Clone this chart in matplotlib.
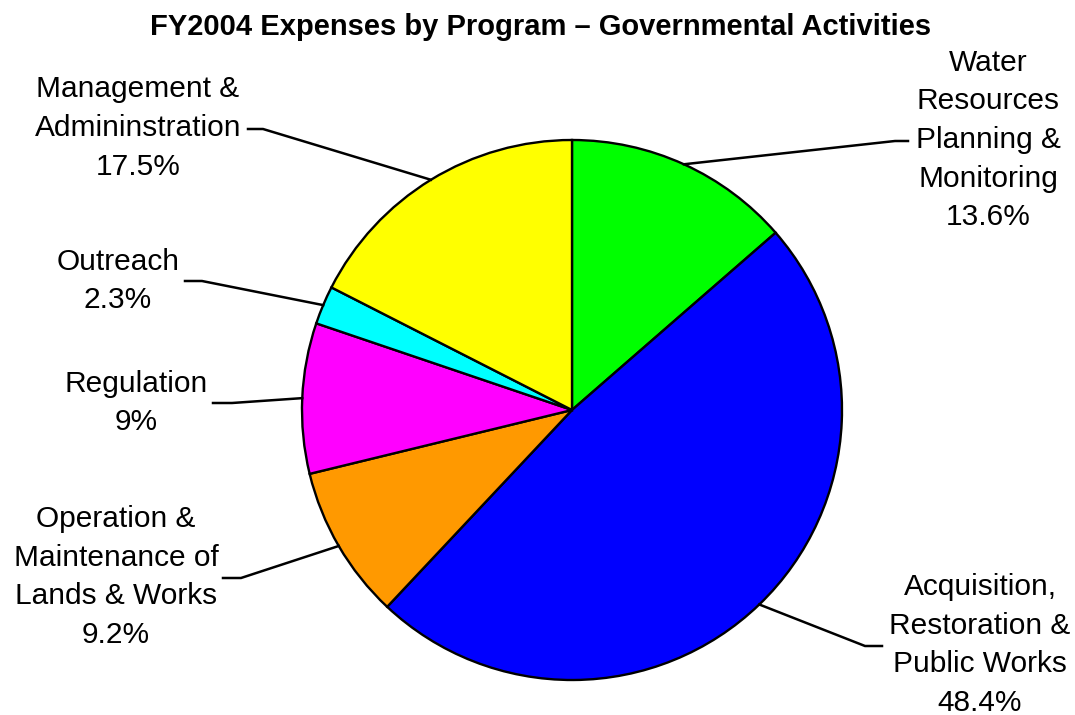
import matplotlib
matplotlib.use("Agg")
import matplotlib.pyplot as plt
import numpy as np

# ---- data ----
programs = [
    "Water\nResources\nPlanning &\nMonitoring",
    "Acquisition,\nRestoration &\nPublic Works",
    "Operation &\nMaintenance of\nLands & Works",
    "Regulation",
    "Outreach",
    "Management &\nAdmininstration",
]
percent_labels = ["13.6%", "48.4%", "9.2%", "9%", "2.3%", "17.5%"]
shares = [13.6, 48.4, 9.2, 9.0, 2.3, 17.5]
colors = ["#00FF00", "#0000FF", "#FF9900", "#FF00FF", "#00FFFF", "#FFFF00"]
title = "FY2004 Expenses by Program \u2013 Governmental Activities"

W, H = 1075, 715
plt.rcParams['font.family'] = ['Liberation Sans', 'DejaVu Sans']

fig = plt.figure(figsize=(W / 100, H / 100), dpi=100)
ax = fig.add_axes([0, 0, 1, 1])

def py(y):
    return H - y

cx, cy, R = 572, 410, 270
wedges, _ = ax.pie(shares, colors=colors, startangle=90, counterclock=False,
                   center=(cx, py(cy)), radius=R, frame=True,
                   wedgeprops=dict(edgecolor='black', linewidth=1.7))
ax.set_xlim(0, W)
ax.set_ylim(0, H)
ax.set_aspect('equal')
ax.axis('off')

# label layout (pixel coords): text center x, text center y, elbow, end
layout = [
    dict(tx=988, ty=140, elbow=(895, 141), end=(908, 141)),
    dict(tx=980, ty=645, elbow=(865, 646), end=(882, 646)),
    dict(tx=116, ty=577, elbow=(241, 578), end=(223, 578)),
    dict(tx=136, ty=403, elbow=(232, 403), end=(213, 403)),
    dict(tx=118, ty=281, elbow=(202, 281), end=(185, 281)),
    dict(tx=138, ty=128, elbow=(263, 129), end=(248, 129)),
]
line_h = 38.7
fs = 21.5

for w, name, pct, lay in zip(wedges, programs, percent_labels, layout):
    mid = np.deg2rad((w.theta1 + w.theta2) / 2)
    sx = cx + R * np.cos(mid)
    sy = py(cy) + R * np.sin(mid)
    ex, ey = lay['elbow']
    fx, fy = lay['end']
    ax.plot([sx, ex, fx], [sy, py(ey), py(fy)], color='black', lw=1.8,
            solid_joinstyle='miter', zorder=5)
    lines = name.split("\n") + [pct]
    n = len(lines)
    y0 = lay['ty'] - (n - 1) / 2 * line_h
    for i, ln in enumerate(lines):
        ax.text(lay['tx'], py(y0 + i * line_h), ln, ha='center', va='center',
                fontsize=fs, color='black')

fig.text(541 / W, 1 - 27 / H, title, ha='center', va='center',
         fontsize=21, fontweight='bold', color='black')

fig.savefig("out.png", dpi=100, facecolor='white')
